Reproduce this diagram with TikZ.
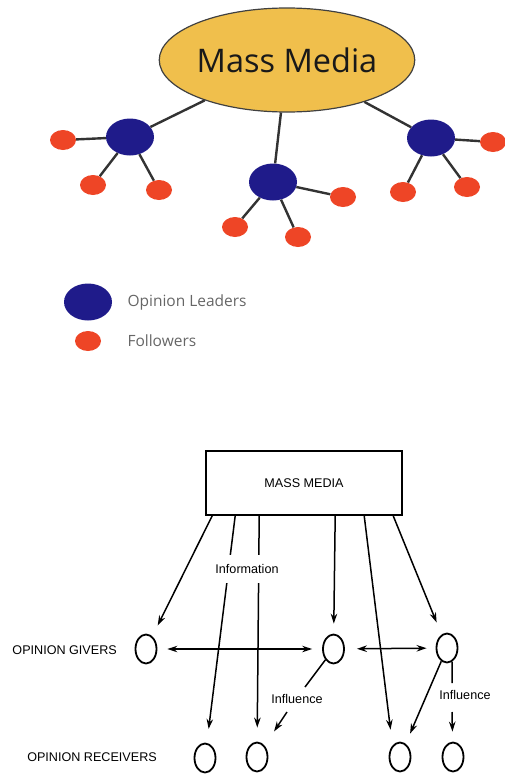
\documentclass[tikz,border=0pt]{standalone}
\usepackage{fontspec}
\setmainfont{Liberation Sans}
\newfontfamily\roundsans{Open Sans}
\usetikzlibrary{shapes.geometric,arrows.meta}
\definecolor{mediagold}{HTML}{F0BF4C}
\definecolor{leaderblue}{HTML}{1F1B8A}
\definecolor{followerred}{HTML}{EE4526}
\tikzset{
  media/.style={ellipse, draw=black!75, line width=1.2pt, fill=mediagold,
    minimum width=210pt, minimum height=104pt, inner sep=0pt,
    font=\roundsans\fontsize{32.5}{34}\selectfont, text=black!90},
  leader/.style={ellipse, fill=leaderblue, minimum width=48pt, minimum height=37pt, inner sep=0pt},
  follower/.style={ellipse, fill=followerred, minimum width=26pt, minimum height=20pt, inner sep=0pt},
  tie/.style={draw=black!80, line width=2.4pt},
  legendtext/.style={font=\roundsans\fontsize{15.5}{17}\selectfont, text=black!60, anchor=west},
  mediabox/.style={draw, line width=1.6pt, minimum width=196pt, minimum height=64pt,
    font=\fontsize{12.6}{14}\selectfont},
  person/.style={ellipse, draw, line width=1.8pt, minimum width=21pt, minimum height=29pt, inner sep=0pt},
  link/.style={line width=1.5pt},
  flow/.style={link, -{Stealth[length=10pt,width=6.5pt]}},
  twoway/.style={link, {Stealth[length=10pt,width=6.5pt]}-{Stealth[length=10pt,width=6.5pt]}},
  rowlabel/.style={font=\fontsize{12.6}{14}\selectfont, anchor=east, inner sep=0pt},
  tag/.style={font=\fontsize{12.6}{14}\selectfont, inner sep=1pt}
}
\begin{document}
\begin{tikzpicture}[x=1pt,y=-1pt]
\useasboundingbox (0,0) rectangle (504,774);

% ---- two-step flow: media, leaders and followers ----
\node[media] (mm) at (287,60) {Mass Media};
\node[leader] (l1) at (130,137) {};
\node[leader] (l2) at (273,182) {};
\node[leader] (l3) at (431,138) {};
\node[follower] (f11) at (63,140) {};
\node[follower] (f12) at (93,185) {};
\node[follower] (f13) at (159,190) {};
\node[follower] (f21) at (343,197) {};
\node[follower] (f22) at (235,227) {};
\node[follower] (f23) at (298,237) {};
\node[follower] (f31) at (493,142) {};
\node[follower] (f32) at (403,192) {};
\node[follower] (f33) at (467,187) {};
\foreach \a/\b in {mm/l1,mm/l2,mm/l3,l1/f11,l1/f12,l1/f13,l2/f21,l2/f22,l2/f23,l3/f31,l3/f32,l3/f33}
  \draw[tie] (\a) -- (\b);

% legend
\node[leader] (kl) at (88,302) {};
\node[follower] (kf) at (88,341) {};
\node[legendtext] (klt) at (124,302) {Opinion Leaders};
\node[legendtext] (kft) at (124,341) {Followers};

% ---- multi-step flow: givers and receivers ----
\node[mediabox] (box) at (304,483) {MASS MEDIA};
\node[person] (g1) at (146,649) {};
\node[person] (g2) at (333.5,649) {};
\node[person] (g3) at (447,648) {};
\node[person] (r1) at (205,758) {};
\node[person] (r2) at (257,757) {};
\node[person] (r3) at (400,757) {};
\node[person] (r4) at (453,757) {};
\node[rowlabel] (lg) at (117,650) {OPINION GIVERS};
\node[rowlabel] (lr) at (157,757) {OPINION RECEIVERS};

\draw[flow, shorten >=12pt] ([xshift=7pt]box.south west) -- (g1);
\draw[flow, shorten >=14pt] ([xshift=30pt]box.south west) -- (r1);
\draw[flow, shorten >=14pt] ([xshift=54pt]box.south west) -- (r2);
\draw[flow, shorten >=10pt] ([xshift=130pt]box.south west) -- (g2);
\draw[flow, shorten >=12pt] ([xshift=159pt]box.south west) -- ([xshift=-8pt]r3.north);
\draw[flow, shorten >=13pt] ([xshift=188pt]box.south west) -- (g3);
\node[tag, fill=white, inner ysep=9pt] (info) at (247,569) {Information};

\draw[twoway, shorten <=10pt, shorten >=10pt] (g1) -- (g2);
\draw[twoway, shorten <=12pt, shorten >=9pt] (g2) -- (g3);

% influence from the middle giver
\coordinate (c1) at (305,687);
\coordinate (c2) at (287,712);
\node[tag] (inf1) at (297,699) {Influence};
\draw[link] (g2) -- (c1);
\draw[flow, shorten >=17pt] (c2) -- (r2);

% influence from the right giver
\coordinate (c4) at (452,683);
\coordinate (c5) at (452,712);
\node[tag] (inf2) at (465,695) {Influence};
\draw[link] (g3.-70) -- (c4);
\draw[flow, shorten >=10pt] (c5) -- (r4);
\draw[flow, shorten >=11pt] (g3) -- (r3);
\end{tikzpicture}
\end{document}
